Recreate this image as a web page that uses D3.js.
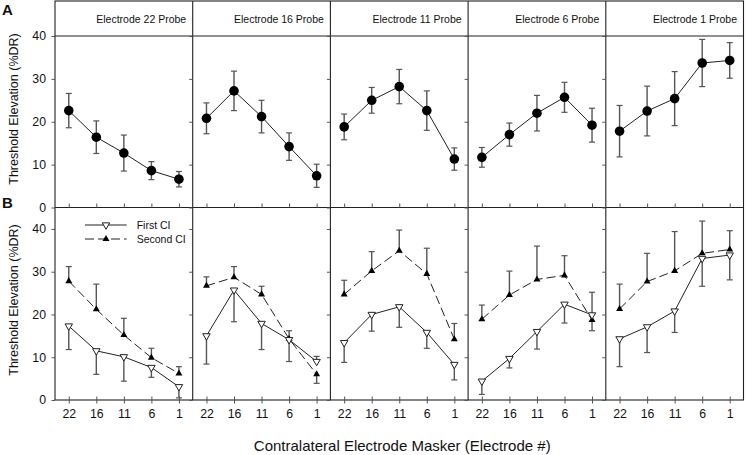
<!DOCTYPE html>
<html><head><meta charset="utf-8">
<script src="https://cdn.jsdelivr.net/npm/d3@7"></script>
<style>
html,body{margin:0;padding:0;background:#fff;}
svg{display:block;font-family:"Liberation Sans",Arial,sans-serif;}
</style></head>
<body>
<svg id="chart" width="746" height="455"></svg>
<script>
// ---------- data ----------
const probes = ["Electrode 22 Probe","Electrode 16 Probe","Electrode 11 Probe","Electrode 6 Probe","Electrode 1 Probe"];
const maskers = ["22","16","11","6","1"];
const aTicks = [0,10,20,30,40];
const bTicks = [0,10,20,30,40];

// Panel A: mean threshold elevation and symmetric error
const aMean = [
  [22.6,16.4,12.7,8.6,6.6],
  [20.8,27.2,21.2,14.2,7.4],
  [18.8,25.0,28.2,22.6,11.3],
  [11.7,17.0,22.0,25.7,19.2],
  [17.8,22.5,25.4,33.7,34.3]
];
const aErr = [
  [4.0,3.8,4.2,2.1,1.8],
  [3.6,4.6,3.8,3.2,2.7],
  [3.0,3.0,4.0,4.6,2.6],
  [2.3,2.7,4.15,3.5,3.95],
  [6.0,5.8,6.3,5.5,4.15]
];
// Panel B: First CI and Second CI
const firstMean = [
  [17.3,11.5,10.1,7.6,3.1],
  [15.0,25.7,17.9,14.1,9.0],
  [13.4,20.0,21.8,15.8,8.3],
  [4.4,9.7,16.0,22.4,19.9],
  [14.3,17.1,20.8,33.1,33.9]
];
const firstErr = [
  [5.5,5.5,5.7,2.3,2.6],
  [6.6,7.4,6.1,5.1,1.2],
  [4.6,3.9,4.8,3.7,3.6],
  [3.1,2.2,4.1,4.4,5.3],
  [6.5,6.0,5.0,6.5,5.8]
];
const secondMean = [
  [27.8,21.2,15.2,9.9,6.2],
  [26.7,28.7,24.7,14.3,6.0],
  [24.7,30.2,34.9,29.5,14.2],
  [18.9,24.55,28.2,29.15,18.7],
  [21.3,27.7,30.2,34.3,35.2]
];
const secondErr = [
  [3.4,5.9,3.9,2.2,1.6],
  [2.1,2.5,1.9,1.9,2.1],
  [3.3,4.5,4.85,6.0,3.7],
  [3.3,5.6,7.8,4.6,2.5],
  [5.8,6.6,9.2,7.55,4.4]
];
const legendLabels = ["First CI","Second CI"];

// ---------- layout ----------
const svg = d3.select("#chart");
svg.append("rect").attr("width",746).attr("height",455).attr("fill","#fff");
const left = 55, right = 743.5, nP = 5;
const pw = (right-left)/nP;
const topY = 1;
const yA = d3.scaleLinear().domain([0,40]).range([207.5,36]);
const yB = d3.scaleLinear().domain([0,45]).range([400,207.6]);
const lineCol = "#222", errCol = "#555", txtCol = "#111";

const panelX = d3.scaleBand().domain(d3.range(nP)).range([left,right]).padding(0);
function xs(i){
  const x0 = panelX(i);
  return d3.scalePoint().domain(maskers).range([x0, x0+pw]).padding(0.5);
}

// Frame
const frame = svg.append("g").attr("fill","none").attr("stroke",lineCol).attr("stroke-width",1.1);
frame.append("rect").attr("x",left).attr("y",topY).attr("width",right-left).attr("height",yB(0)-topY);
frame.append("line").attr("x1",left).attr("x2",right).attr("y1",yA(40)).attr("y2",yA(40));
frame.append("line").attr("x1",left).attr("x2",right).attr("y1",yA(0)).attr("y2",yA(0));
for(let i=1;i<nP;i++){
  frame.append("line").attr("x1",panelX(i)).attr("x2",panelX(i)).attr("y1",topY).attr("y2",yB(0));
}

// Header titles
svg.append("g").selectAll("text").data(probes).join("text")
  .attr("x",(d,i)=>panelX(i)+pw-6.5).attr("y",22.7)
  .attr("text-anchor","end").attr("font-size","10.5px").attr("fill",txtCol).text(d=>d);

// Axes for each panel
for(let i=0;i<nP;i++){
  const x = xs(i), x0 = panelX(i);
  const ga = svg.append("g").attr("transform",`translate(${x0},0)`)
    .call(d3.axisLeft(yA).tickValues(aTicks).tickSize(3.5).tickFormat(i===0?d3.format("d"):""));
  const gb = svg.append("g").attr("transform",`translate(${x0},0)`)
    .call(d3.axisLeft(yB).tickValues(bTicks).tickSize(3.5).tickFormat(i===0?d3.format("d"):""));
  [ga,gb].forEach(g=>{
    g.select(".domain").remove();
    g.selectAll(".tick line").attr("stroke",errCol);
    g.selectAll(".tick text").attr("font-size","12.3px").attr("fill",txtCol).attr("x",-9)
      .attr("font-family","'Liberation Sans',Arial,sans-serif");
  });
  const gxa = svg.append("g").attr("transform",`translate(0,${yA(0)})`)
    .call(d3.axisTop(x).tickSize(4).tickFormat(""));
  gxa.select(".domain").remove();
  gxa.selectAll(".tick line").attr("stroke",errCol);
  const gxb = svg.append("g").attr("transform",`translate(0,${yB(0)})`)
    .call(d3.axisBottom(x).tickSize(3.5).tickPadding(6));
  gxb.select(".domain").remove();
  gxb.selectAll(".tick line").attr("stroke",errCol).attr("y1",-3.5);
  gxb.selectAll(".tick text").attr("font-size","12.3px").attr("fill",txtCol)
    .attr("font-family","'Liberation Sans',Arial,sans-serif");
}

// Helpers
const capW = 3;
function errBar(g, x, y1, y2){
  g.append("line").attr("x1",x).attr("x2",x).attr("y1",y1).attr("y2",y2)
    .attr("stroke",errCol).attr("stroke-width",1.4);
  g.append("line").attr("x1",x-capW).attr("x2",x+capW).attr("y1",y2).attr("y2",y2)
    .attr("stroke",errCol).attr("stroke-width",1.2);
}
const triUp = d3.symbol().type(d3.symbolTriangle).size(21);
const triDown = d3.symbol().type(d3.symbolTriangle).size(24);

// Panel A
for(let i=0;i<nP;i++){
  const x = xs(i);
  const g = svg.append("g");
  aMean[i].forEach((v,j)=>{
    errBar(g, x(maskers[j]), yA(v), yA(v+aErr[i][j]));
    errBar(g, x(maskers[j]), yA(v), yA(v-aErr[i][j]));
  });
  g.append("path").datum(aMean[i])
    .attr("d", d3.line().x((d,j)=>x(maskers[j])).y(d=>yA(d)))
    .attr("fill","none").attr("stroke",lineCol).attr("stroke-width",1);
  g.selectAll("circle").data(aMean[i]).join("circle")
    .attr("cx",(d,j)=>x(maskers[j])).attr("cy",d=>yA(d)).attr("r",4.8).attr("fill","#000");
}

// Panel B
for(let i=0;i<nP;i++){
  const x = xs(i);
  const g = svg.append("g");
  firstMean[i].forEach((v,j)=>{
    const s = secondMean[i][j];
    const firstUp = v > s;
    const xx = x(maskers[j]);
    errBar(g, xx, yB(v), yB(firstUp ? v+firstErr[i][j] : v-firstErr[i][j]));
    errBar(g, xx, yB(s), yB(firstUp ? s-secondErr[i][j] : s+secondErr[i][j]));
  });
  g.append("path").datum(firstMean[i])
    .attr("d", d3.line().x((d,j)=>x(maskers[j])).y(d=>yB(d)))
    .attr("fill","none").attr("stroke",lineCol).attr("stroke-width",1);
  g.append("path").datum(secondMean[i])
    .attr("d", d3.line().x((d,j)=>x(maskers[j])).y(d=>yB(d)))
    .attr("fill","none").attr("stroke",lineCol).attr("stroke-width",1).attr("stroke-dasharray","9,4");
  g.selectAll("path.s2").data(secondMean[i]).join("path").attr("class","s2")
    .attr("d",triUp).attr("transform",(d,j)=>`translate(${x(maskers[j])},${yB(d)})`).attr("fill","#000");
  g.selectAll("path.s1").data(firstMean[i]).join("path").attr("class","s1")
    .attr("d",triDown).attr("transform",(d,j)=>`translate(${x(maskers[j])},${yB(d)}) rotate(180)`)
    .attr("fill","#fff").attr("stroke","#222").attr("stroke-width",1);
}

// Legend (in first B panel)
const lg = svg.append("g");
const lx0 = panelX(0)+30, lx1 = panelX(0)+71.7, lmx = panelX(0)+51;
const ly = [225, 239];
lg.append("line").attr("x1",lx0).attr("x2",lx1).attr("y1",ly[0]).attr("y2",ly[0]).attr("stroke",lineCol);
lg.append("line").attr("x1",lx0).attr("x2",lx1).attr("y1",ly[1]).attr("y2",ly[1]).attr("stroke",lineCol).attr("stroke-dasharray","9,4");
lg.append("path").attr("d",triDown).attr("transform",`translate(${lmx},${ly[0]}) rotate(180)`)
  .attr("fill","#fff").attr("stroke","#222");
lg.append("path").attr("d",triUp).attr("transform",`translate(${lmx},${ly[1]})`).attr("fill","#000");
lg.selectAll("text").data(legendLabels).join("text")
  .attr("x",panelX(0)+81.7).attr("y",(d,i)=>ly[i]+3.8)
  .attr("font-size","10.5px").attr("fill",txtCol).text(d=>d);

// Axis titles and panel letters
svg.append("text").attr("transform","translate(17.5,109) rotate(-90)")
  .attr("text-anchor","middle").attr("font-size","12.5px").attr("fill",txtCol).text("Threshold Elevation (%DR)");
svg.append("text").attr("transform","translate(17.5,300) rotate(-90)")
  .attr("text-anchor","middle").attr("font-size","12.5px").attr("fill",txtCol).text("Threshold Elevation (%DR)");
svg.append("text").attr("x",(left+right)/2 + 3).attr("y",450.7)
  .attr("text-anchor","middle").attr("font-size","15px").attr("fill",txtCol)
  .text("Contralateral Electrode Masker (Electrode #)");
svg.append("text").attr("x",2).attr("y",15.3).attr("font-size","15px").attr("font-weight","bold").attr("fill",txtCol).text("A");
svg.append("text").attr("x",2).attr("y",208).attr("font-size","15px").attr("font-weight","bold").attr("fill",txtCol).text("B");
</script>
</body></html>
